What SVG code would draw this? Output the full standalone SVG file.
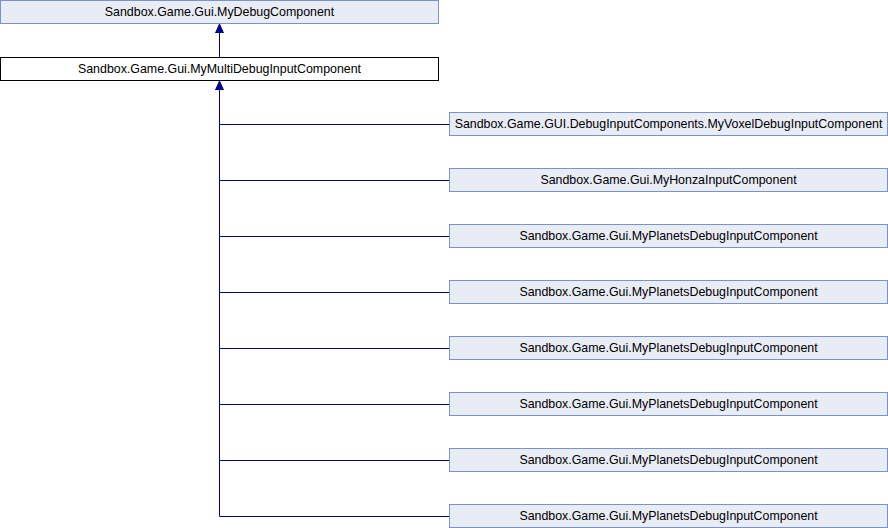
<svg xmlns="http://www.w3.org/2000/svg" width="888" height="528" viewBox="0 0 888 528">
<style>
.n rect{fill:#e8ecf5;stroke:#7b93c8;stroke-width:1}
.cur rect{fill:#ffffff;stroke:#000000;stroke-width:1}
text{font-family:"Liberation Sans",Arial,sans-serif;font-size:12.4px;fill:#000;text-anchor:middle}
.e{stroke:#00008b;stroke-width:1;fill:none}
</style>
<defs>
<marker id="ah" markerWidth="10" markerHeight="10" refX="9" refY="5" orient="auto" markerUnits="userSpaceOnUse">
<path d="M0,1 L9,5 L0,9 Z" fill="#00008b" stroke="#00008b"/>
</marker>
</defs>
<g id="edges">
<path class="e" d="M219.5,57 L219.5,24" marker-end="url(#ah)"/>
<path class="e" d="M219.5,516.5 L219.5,81" marker-end="url(#ah)"/>
<path class="e" d="M219.5,124.5 H449"/>
<path class="e" d="M219.5,180.5 H449"/>
<path class="e" d="M219.5,236.5 H449"/>
<path class="e" d="M219.5,292.5 H449"/>
<path class="e" d="M219.5,348.5 H449"/>
<path class="e" d="M219.5,404.5 H449"/>
<path class="e" d="M219.5,460.5 H449"/>
<path class="e" d="M219.5,516.5 H449"/>
</g>
<g id="n0" class="n"><rect x="0.5" y="0.5" width="438" height="23"/><text x="219.5" y="16">Sandbox.Game.Gui.MyDebugComponent</text></g>
<g id="n1" class="cur"><rect x="0.5" y="57.5" width="438" height="23"/><text x="219.5" y="73">Sandbox.Game.Gui.MyMultiDebugInputComponent</text></g>
<g id="n2" class="n"><rect x="449.5" y="112.5" width="438" height="23"/><text x="668.5" y="128">Sandbox.Game.GUI.DebugInputComponents.MyVoxelDebugInputComponent</text></g>
<g id="n3" class="n"><rect x="449.5" y="168.5" width="438" height="23"/><text x="668.5" y="184">Sandbox.Game.Gui.MyHonzaInputComponent</text></g>
<g id="n4" class="n"><rect x="449.5" y="224.5" width="438" height="23"/><text x="668.5" y="240">Sandbox.Game.Gui.MyPlanetsDebugInputComponent</text></g>
<g id="n5" class="n"><rect x="449.5" y="280.5" width="438" height="23"/><text x="668.5" y="296">Sandbox.Game.Gui.MyPlanetsDebugInputComponent</text></g>
<g id="n6" class="n"><rect x="449.5" y="336.5" width="438" height="23"/><text x="668.5" y="352">Sandbox.Game.Gui.MyPlanetsDebugInputComponent</text></g>
<g id="n7" class="n"><rect x="449.5" y="392.5" width="438" height="23"/><text x="668.5" y="408">Sandbox.Game.Gui.MyPlanetsDebugInputComponent</text></g>
<g id="n8" class="n"><rect x="449.5" y="448.5" width="438" height="23"/><text x="668.5" y="464">Sandbox.Game.Gui.MyPlanetsDebugInputComponent</text></g>
<g id="n9" class="n"><rect x="449.5" y="504.5" width="438" height="23"/><text x="668.5" y="520">Sandbox.Game.Gui.MyPlanetsDebugInputComponent</text></g>
</svg>
